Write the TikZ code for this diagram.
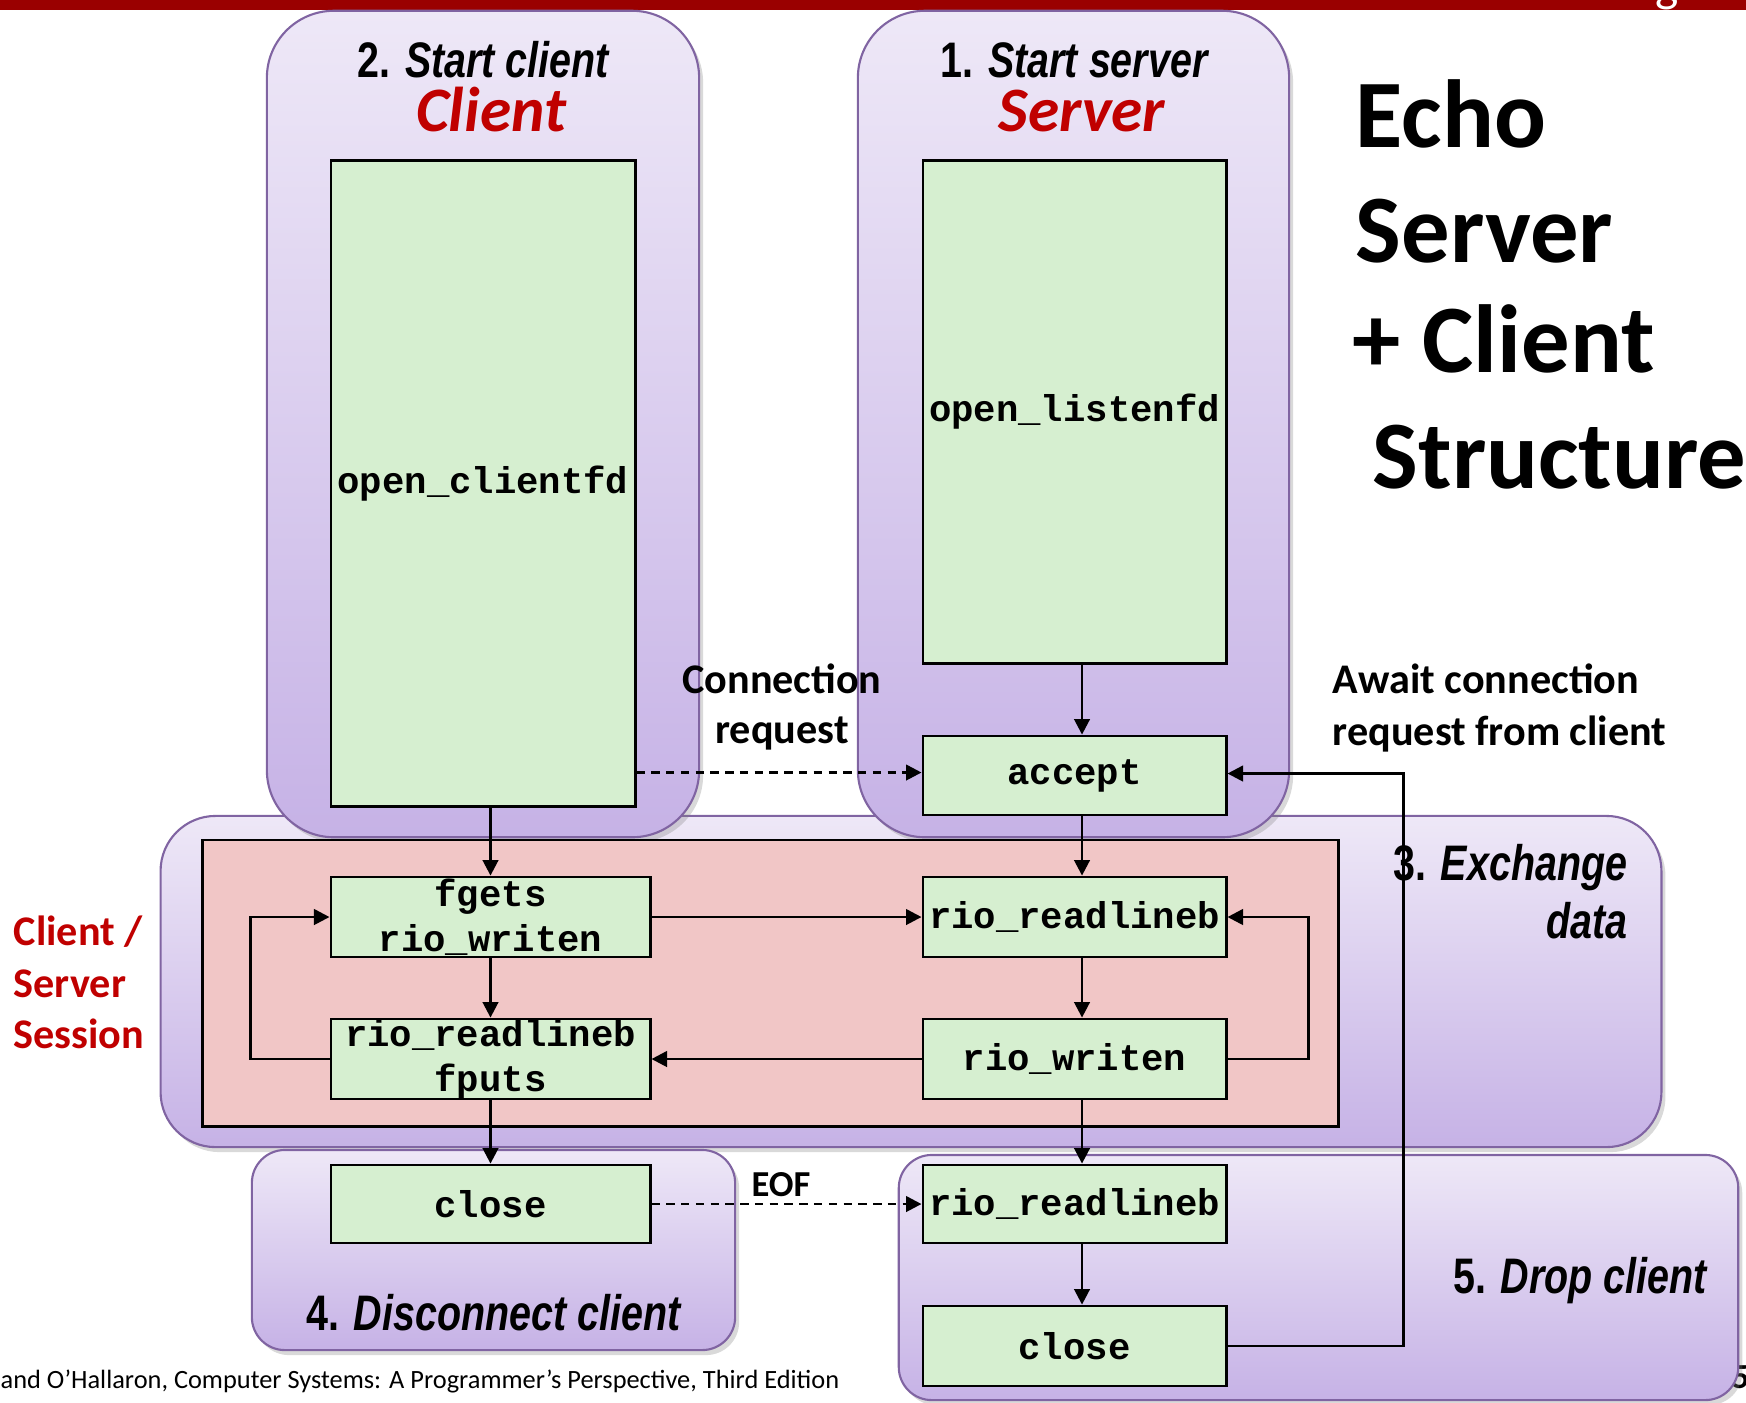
\documentclass[tikz,border=0pt]{standalone}
\usepackage{fontspec}
\setmainfont{Carlito}
\newfontfamily\narrowfont[FakeStretch=0.79]{Liberation Sans}
\newfontfamily\codefont{Liberation Mono}
\usetikzlibrary{arrows.meta,shadows}
\definecolor{boxgreen}{HTML}{D6EFD0}
\definecolor{pinkbg}{HTML}{F1C6C6}
\definecolor{purptop}{HTML}{EEE8F7}
\definecolor{purpbot}{HTML}{C6B2E6}
\definecolor{purpline}{HTML}{8064A2}
\definecolor{darkred}{HTML}{C00000}
\definecolor{barred}{HTML}{9A0000}
\begin{document}
\begin{tikzpicture}[x=0.01cm,y=-0.01cm,
  phase/.style={draw=purpline, line width=0.6pt, top color=purptop, bottom color=purpbot, inner sep=0pt,
    drop shadow={shadow xshift=0.04cm, shadow yshift=-0.05cm, opacity=0.3}},
  codebox/.style={draw=black, line width=0.8pt, fill=boxgreen, inner sep=0pt, align=center,
    font=\codefont\bfseries\fontsize{10.6}{12.8}\selectfont},
  steplabel/.style={inner sep=0pt, font=\narrowfont\bfseries\fontsize{14.2}{16}\selectfont},
  redtitle/.style={inner sep=0pt, text=darkred, font=\bfseries\itshape\fontsize{18}{20}\selectfont},
  note/.style={inner sep=0pt, font=\bfseries\fontsize{12}{15}\selectfont},
  bigtitle/.style={inner sep=0pt, anchor=base west, font=\bfseries\fontsize{27.5}{33}\selectfont},
  arr/.style={line width=0.75pt, -{Triangle[length=0.155cm,width=0.155cm]}},
  dasharr/.style={arr, dash pattern=on 2.4pt off 1.8pt},
]
\useasboundingbox (0,0) rectangle (1746,1402);
% top bar
\fill[barred] (0,0) rectangle (1746,10);
\node[inner sep=0pt, anchor=base, text=white, font=\fontsize{14}{16}\selectfont] (cmu) at (1667,1) {g};
% page number (behind box 5)
\node[inner sep=0pt, anchor=base west, font=\bfseries\fontsize{10}{12}\selectfont] (pagenum) at (1731,1388) {5};

% phase containers
\node[phase, rounded corners=0.55cm, minimum width=15cm, minimum height=3.31cm] (exch) at (911,981.5) {};
\node[phase, rounded corners=0.67cm, minimum width=4.32cm, minimum height=8.26cm] (clientbg) at (483,424) {};
\node[phase, rounded corners=0.67cm, minimum width=4.31cm, minimum height=8.26cm] (serverbg) at (1073.5,424) {};
\node[phase, rounded corners=0.33cm, minimum width=4.83cm, minimum height=2.00cm] (discbg) at (493.5,1250) {};
\node[phase, rounded corners=0.33cm, minimum width=8.39cm, minimum height=2.45cm] (dropbg) at (1318.5,1277.5) {};
\node[draw=black, line width=0.8pt, fill=pinkbg, inner sep=0pt, minimum width=11.35cm, minimum height=2.86cm] (session) at (770.5,983) {};

% function boxes
\node[codebox, minimum width=3.04cm, minimum height=6.45cm] (ocfd) at (483,483.5) {open\_clientfd};
\node[codebox, minimum width=3.03cm, minimum height=5.02cm] (olfd) at (1074.5,412) {open\_listenfd};
\node[codebox, minimum width=3.03cm, minimum height=0.79cm] (accept) at (1074.5,775.5) {accept};
\node[codebox, minimum width=3.19cm, minimum height=0.80cm] (fgets) at (490.5,917) {fgets\\rio\_writen};
\node[codebox, minimum width=3.19cm, minimum height=0.80cm] (lrl) at (490.5,1059) {rio\_readlineb\\fputs};
\node[codebox, minimum width=3.03cm, minimum height=0.80cm] (rrl) at (1074.5,917) {rio\_readlineb};
\node[codebox, minimum width=3.03cm, minimum height=0.80cm] (rwr) at (1074.5,1059) {rio\_writen};
\node[codebox, minimum width=3.19cm, minimum height=0.78cm] (lclose) at (490.5,1204) {close};
\node[codebox, minimum width=3.03cm, minimum height=0.78cm] (drl) at (1074.5,1204) {rio\_readlineb};
\node[codebox, minimum width=3.03cm, minimum height=0.80cm] (dclose) at (1074.5,1346) {close};

% connectors
\draw[arr] (fgets.north |- ocfd.south) -- (fgets.north);
\draw[arr] (fgets) -- (lrl);
\draw[arr] (lrl) -- (lclose);
\draw[arr] ([xshift=0.075cm]olfd.south) -- ([xshift=0.075cm]accept.north);
\draw[arr] ([xshift=0.075cm]accept.south) -- ([xshift=0.075cm]rrl.north);
\draw[arr] ([xshift=0.075cm]rrl.south) -- ([xshift=0.075cm]rwr.north);
\draw[arr] ([xshift=0.075cm]rwr.south) -- ([xshift=0.075cm]drl.north);
\draw[arr] ([xshift=0.075cm]drl.south) -- ([xshift=0.075cm]dclose.north);
\draw[arr] (fgets) -- (rrl);
\draw[arr] (rwr) -- (lrl);
\draw[arr] (lrl.west) -| ([xshift=-0.79cm]fgets.west) -- (fgets.west);
\draw[arr] (rwr.east) -| ([xshift=0.81cm]rrl.east) -- (rrl.east);
\draw[dasharr] ([yshift=0.03cm]accept.west -| ocfd.east) -- ([yshift=0.03cm]accept.west);
\draw[dasharr] (lclose) -- (drl);
\draw[arr] (dclose.east) -| ([xshift=1.76cm,yshift=0.02cm]accept.east) -- ([yshift=0.02cm]accept.east);

% step labels
\node[steplabel, anchor=base] (t2) at (484,77) {2. \textit{Start client}};
\node[redtitle, anchor=base] (cl) at (491,131) {Client};
\node[steplabel, anchor=base] (t1) at (1075,77) {1. \textit{Start server}};
\node[redtitle, anchor=base] (sv) at (1082,131) {Server};
\node[steplabel, anchor=base east] (t3a) at (1628,880) {3. \textit{Exchange}};
\node[steplabel, anchor=base east] (t3b) at (1628,938) {\textit{data}};
\node[steplabel, anchor=base] (t4) at (494,1330) {4. \textit{Disconnect client}};
\node[steplabel, anchor=base east] (t5) at (1709,1293) {5. \textit{Drop client}};

% notes
\node[note, anchor=base] (cr1) at (782,693) {Connection};
\node[note, anchor=base] (cr2) at (782,743) {request};
\node[note, anchor=base west] (aw1) at (1332,693) {Await connection};
\node[note, anchor=base west] (aw2) at (1332,745) {request from client};
\node[note, anchor=base west, text=darkred] (cs1) at (13,945) {Client /};
\node[note, anchor=base west, text=darkred] (cs2) at (13,997) {Server};
\node[note, anchor=base west, text=darkred] (cs3) at (13,1048) {Session};
\node[inner sep=0pt, anchor=base, font=\bfseries\fontsize{10.4}{12}\selectfont] (eof) at (781,1196) {EOF};

% big title
\node[bigtitle] (ti1) at (1355,147) {Echo};
\node[bigtitle] (ti2) at (1355,262) {Server};
\node[bigtitle] (ti3) at (1352,372) {+ Client};
\node[bigtitle] (ti4) at (1372,488) {Structure};

% footer
\node[inner sep=0pt, anchor=base west, font=\fontsize{7.5}{9}\selectfont] (footer) at (0,1388) {and O’Hallaron, Computer Systems: A Programmer’s Perspective, Third Edition};
\end{tikzpicture}
\end{document}
